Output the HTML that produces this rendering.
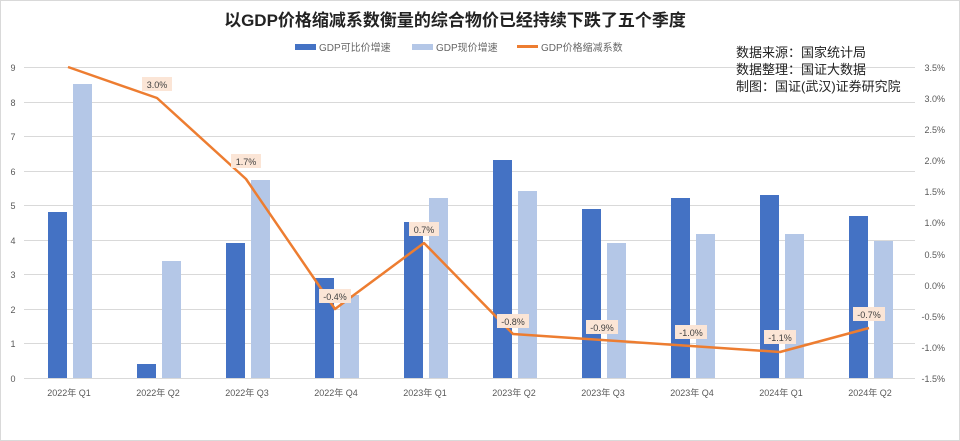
<!DOCTYPE html>
<html><head><meta charset="utf-8"><style>
html,body{margin:0;padding:0;background:#fff}
svg{display:block}
text{font-family:"Liberation Sans","Noto Sans CJK SC",sans-serif}
</style></head><body>
<svg width="960" height="441" viewBox="0 0 960 441">
<rect x="0.5" y="0.5" width="959" height="440" fill="#fff" stroke="#d9d9d9"/>
<text x="455" y="26" text-anchor="middle" font-size="17" font-weight="bold" fill="#222">以GDP价格缩减系数衡量的综合物价已经持续下跌了五个季度</text>
<rect x="295" y="44" width="21" height="6" fill="#4472c4"/>
<text x="319" y="51" font-size="10" fill="#666">GDP可比价增速</text>
<rect x="412" y="44" width="21" height="6" fill="#b4c7e7"/>
<text x="436" y="51" font-size="10" fill="#666">GDP现价增速</text>
<rect x="517" y="45" width="21" height="3" fill="#ed7d31"/>
<text x="541" y="51" font-size="10" fill="#666">GDP价格缩减系数</text>
<g stroke="#d9d9d9" stroke-width="1">
<line x1="24" x2="915" y1="67.5" y2="67.5"/><line x1="24" x2="915" y1="102.5" y2="102.5"/>
<line x1="24" x2="915" y1="136.5" y2="136.5"/><line x1="24" x2="915" y1="171.5" y2="171.5"/>
<line x1="24" x2="915" y1="205.5" y2="205.5"/><line x1="24" x2="915" y1="240.5" y2="240.5"/>
<line x1="24" x2="915" y1="274.5" y2="274.5"/><line x1="24" x2="915" y1="309.5" y2="309.5"/>
<line x1="24" x2="915" y1="343.5" y2="343.5"/><line x1="24" x2="915" y1="378.5" y2="378.5"/>
</g>
<g font-size="9" fill="#595959" text-anchor="middle">
<text x="13" y="71">9</text><text x="13" y="106">8</text><text x="13" y="140">7</text><text x="13" y="175">6</text><text x="13" y="209">5</text><text x="13" y="244">4</text><text x="13" y="278">3</text><text x="13" y="313">2</text><text x="13" y="347">1</text><text x="13" y="382">0</text>
</g>
<g font-size="9" fill="#595959" text-anchor="end">
<text x="945" y="71">3.5%</text><text x="945" y="102">3.0%</text><text x="945" y="133">2.5%</text><text x="945" y="164">2.0%</text><text x="945" y="195">1.5%</text><text x="945" y="226">1.0%</text><text x="945" y="258">0.5%</text><text x="945" y="289">0.0%</text><text x="945" y="320">-0.5%</text><text x="945" y="351">-1.0%</text><text x="945" y="382">-1.5%</text>
</g>
<g fill="#4472c4">
<rect x="48" y="212" width="19" height="166"/><rect x="137" y="364" width="19" height="14"/>
<rect x="226" y="243" width="19" height="135"/><rect x="315" y="278" width="19" height="100"/>
<rect x="404" y="222" width="19" height="156"/><rect x="493" y="160" width="19" height="218"/>
<rect x="582" y="209" width="19" height="169"/><rect x="671" y="198" width="19" height="180"/>
<rect x="760" y="195" width="19" height="183"/><rect x="849" y="216" width="19" height="162"/>
</g>
<g fill="#b4c7e7">
<rect x="73" y="84" width="19" height="294"/><rect x="162" y="261" width="19" height="117"/>
<rect x="251" y="180" width="19" height="198"/><rect x="340" y="295" width="19" height="83"/>
<rect x="429" y="198" width="19" height="180"/><rect x="518" y="191" width="19" height="187"/>
<rect x="607" y="243" width="19" height="135"/><rect x="696" y="234" width="19" height="144"/>
<rect x="785" y="234" width="19" height="144"/><rect x="874" y="241" width="19" height="137"/>
</g>
<polyline fill="none" stroke="#ed7d31" stroke-width="2.5" stroke-linejoin="round" points="68,67 157,98 246,179 335,309 424,243 513,334 602,340 691,346 780,352 869,328"/>
<g font-size="9" fill="#404040" text-anchor="middle">
<rect x="142" y="77" width="30" height="14" fill="#fbe5d6"/><text x="157" y="88">3.0%</text>
<rect x="231" y="154" width="30" height="14" fill="#fbe5d6"/><text x="246" y="165">1.7%</text>
<rect x="319" y="289" width="32" height="14" fill="#fbe5d6"/><text x="335" y="300">-0.4%</text>
<rect x="409" y="222" width="30" height="14" fill="#fbe5d6"/><text x="424" y="233">0.7%</text>
<rect x="497" y="314" width="32" height="14" fill="#fbe5d6"/><text x="513" y="325">-0.8%</text>
<rect x="586" y="320" width="32" height="14" fill="#fbe5d6"/><text x="602" y="331">-0.9%</text>
<rect x="675" y="325" width="32" height="14" fill="#fbe5d6"/><text x="691" y="336">-1.0%</text>
<rect x="764" y="330" width="32" height="14" fill="#fbe5d6"/><text x="780" y="341">-1.1%</text>
<rect x="853" y="307" width="32" height="14" fill="#fbe5d6"/><text x="869" y="318">-0.7%</text>
</g>
<g font-size="9" fill="#595959" text-anchor="middle">
<text x="69" y="396">2022年 Q1</text><text x="158" y="396">2022年 Q2</text><text x="247" y="396">2022年 Q3</text><text x="336" y="396">2022年 Q4</text><text x="425" y="396">2023年 Q1</text><text x="514" y="396">2023年 Q2</text><text x="603" y="396">2023年 Q3</text><text x="692" y="396">2023年 Q4</text><text x="781" y="396">2024年 Q1</text><text x="870" y="396">2024年 Q2</text>
</g>
<g font-size="13" fill="#222">
<text x="736" y="57">数据来源：国家统计局</text>
<text x="736" y="74">数据整理：国证大数据</text>
<text x="736" y="91">制图：国证(武汉)证券研究院</text>
</g>
</svg>
</body></html>
